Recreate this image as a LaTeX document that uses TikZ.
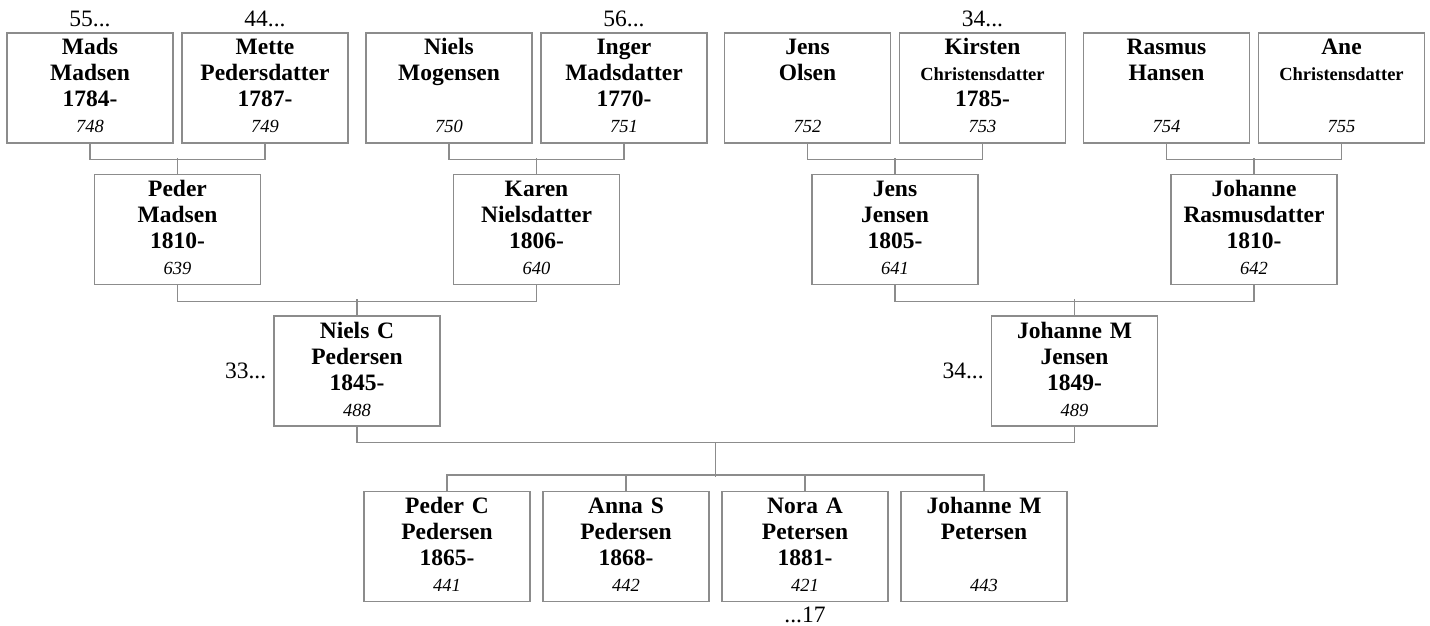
\documentclass[tikz,border=0pt]{standalone}
\usepackage{fontspec}
\setmainfont{Liberation Serif}
\usetikzlibrary{positioning,calc}

\definecolor{boxgray}{RGB}{140,140,140}
\newcommand\idno[1]{{\fontsize{18.5}{26}\selectfont\mdseries\itshape #1}}
\newcommand\longname[1]{{\fontsize{18.5}{26}\selectfont #1}}

\tikzset{
  person/.style={on grid, rectangle, draw=boxgray, line width=1.2pt,
    minimum width=166pt, minimum height=110pt, inner sep=0pt,
    text width=164pt, align=center, text height=16.5pt, text depth=82.5pt,
    font=\fontsize{23.5}{26}\selectfont\bfseries},
  more/.style={font=\fontsize{23.5}{26}\selectfont, inner sep=3pt},
  fork/.style={draw=boxgray, line width=1.2pt},
}

\begin{document}
\begin{tikzpicture}
  \useasboundingbox (0,0) rectangle (1430pt,-626pt);
  % parents
  \path (357pt,-371pt) node[person] (NC) {Niels C\\Pedersen\\1845-\\\idno{488}};
  \path node[person,right=717.5pt of NC] (JM) {Johanne M\\Jensen\\1849-\\\idno{489}};
  % grandparents
  \path node[person,above left=141.5pt and 179.5pt of NC] (PM) {Peder\\Madsen\\1810-\\\idno{639}};
  \path node[person,above right=141.5pt and 179.5pt of NC] (KN) {Karen\\Nielsdatter\\1806-\\\idno{640}};
  \path node[person,above left=141.5pt and 179.5pt of JM] (JJ) {Jens\\Jensen\\1805-\\\idno{641}};
  \path node[person,above right=141.5pt and 179.5pt of JM] (JR) {Johanne\\Rasmusdatter\\1810-\\\idno{642}};
  % great-grandparents
  \path node[person,above left=141.5pt and 87.5pt of PM] (MM) {Mads\\Madsen\\1784-\\\idno{748}};
  \path node[person,above right=141.5pt and 87.5pt of PM] (MP) {Mette\\Pedersdatter\\1787-\\\idno{749}};
  \path node[person,above left=141.5pt and 87.5pt of KN] (NM) {Niels\\Mogensen\\\mbox{}\\\idno{750}};
  \path node[person,above right=141.5pt and 87.5pt of KN] (IM) {Inger\\Madsdatter\\1770-\\\idno{751}};
  \path node[person,above left=141.5pt and 87.5pt of JJ] (JO) {Jens\\Olsen\\\mbox{}\\\idno{752}};
  \path node[person,above right=141.5pt and 87.5pt of JJ] (KC) {Kirsten\\\longname{Christensdatter}\\1785-\\\idno{753}};
  \path node[person,above left=141.5pt and 87.5pt of JR] (RH) {Rasmus\\Hansen\\\mbox{}\\\idno{754}};
  \path node[person,above right=141.5pt and 87.5pt of JR] (AC) {Ane\\\longname{Christensdatter}\\\mbox{}\\\idno{755}};
  % children
  \path node[person,below right=175.5pt and 90pt of NC] (PC) {Peder C\\Pedersen\\1865-\\\idno{441}};
  \path node[person,right=179pt of PC] (AS) {Anna S\\Pedersen\\1868-\\\idno{442}};
  \path node[person,right=179pt of AS] (NA) {Nora A\\Petersen\\1881-\\\idno{421}};
  \path node[person,right=179pt of NA] (JP) {Johanne M\\Petersen\\\mbox{}\\\idno{443}};

  % forks
  \foreach \a/\b/\c in {MM/MP/PM, NM/IM/KN, JO/KC/JJ, RH/AC/JR, PM/KN/NC, JJ/JR/JM} {
    \draw[fork] (\a.south) -- ++(0,-16pt) -| (\b.south);
    \draw[fork] (\c.north) -- ++(0,16pt);
  }
  \draw[fork] (NC.south) -- ++(0,-16pt) -| (JM.south);
  \coordinate (fam) at ($(NC.south)!0.5!(JM.south)+(0,-16pt)$);
  \draw[fork] (fam) -- ++(0,-34pt);
  \draw[fork] (PC.north) -- ++(0,16pt) -| (JP.north);
  \draw[fork] (AS.north) -- ++(0,16pt);
  \draw[fork] (NA.north) -- ++(0,16pt);

  % more generations
  \node[more,above=2pt of MM] (MMup) {55...};
  \node[more,above=2pt of MP] (MPup) {44...};
  \node[more,above=2pt of IM] (IMup) {56...};
  \node[more,above=2pt of KC] (KCup) {34...};
  \node[more,left=4pt of NC] (NCup) {33...};
  \node[more,left=4pt of JM] (JMup) {34...};
  \node[more,below=2pt of NA] (NAdown) {...17};
\end{tikzpicture}
\end{document}
